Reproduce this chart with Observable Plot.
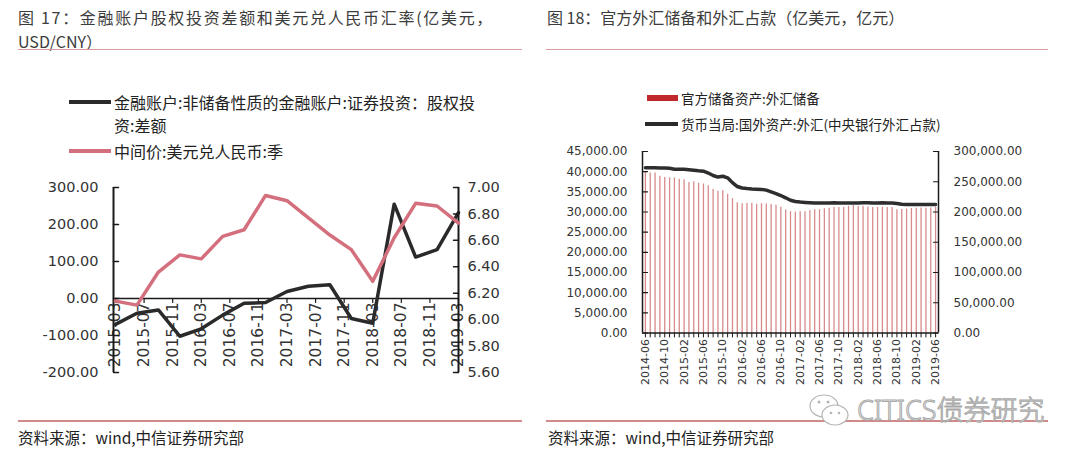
<!DOCTYPE html>
<html><head><meta charset="utf-8">
<script src="https://cdn.jsdelivr.net/npm/d3@7"></script>
<script src="https://cdn.jsdelivr.net/npm/@observablehq/plot@0.6"></script>
<style>
body{margin:0;background:#fff;width:1080px;height:460px;position:relative;overflow:hidden;font-family:"Noto Sans CJK SC","Noto Sans",sans-serif;color:#333}
.abs{position:absolute;white-space:nowrap}
.title{font-size:16px;color:#3c3c3c;line-height:20px}
.rule{position:absolute;height:1.5px;background:#d99a9a}
.leg{font-size:16px;color:#222;line-height:20px}
.leg2{font-size:13.5px;color:#222;line-height:18px}
.foot{font-size:15.5px;color:#222;line-height:20px}
.sw{position:absolute}
</style></head><body>
<script>
// ---------- Figure 17 data (quarterly) ----------
const fundDates = ["2015-03","2015-06","2015-09","2015-12","2016-03","2016-06","2016-09","2016-12","2017-03","2017-06","2017-09","2017-12","2018-03","2018-06","2018-09","2018-12","2019-03"];
const equityNet = [-70,-40,-31,-102,-82,-45,-13,-11,19,33,37,-54,-67,255,112,132,232];
const usdcny = [6.14,6.11,6.36,6.49,6.46,6.63,6.68,6.94,6.90,6.77,6.64,6.53,6.29,6.62,6.88,6.86,6.73];
const leftXTicks = ["2015-03","2015-07","2015-11","2016-03","2016-07","2016-11","2017-03","2017-07","2017-11","2018-03","2018-07","2018-11","2019-03"];
const leftYTicks = [-200,-100,0,100,200,300];
const leftY2Ticks = [5.6,5.8,6.0,6.2,6.4,6.6,6.8,7.0];

// ---------- Figure 18 data (monthly) ----------
const fxMonths = ["2014-06","2014-07","2014-08","2014-09","2014-10","2014-11","2014-12",
"2015-01","2015-02","2015-03","2015-04","2015-05","2015-06","2015-07","2015-08","2015-09","2015-10","2015-11","2015-12",
"2016-01","2016-02","2016-03","2016-04","2016-05","2016-06","2016-07","2016-08","2016-09","2016-10","2016-11","2016-12",
"2017-01","2017-02","2017-03","2017-04","2017-05","2017-06","2017-07","2017-08","2017-09","2017-10","2017-11","2017-12",
"2018-01","2018-02","2018-03","2018-04","2018-05","2018-06","2018-07","2018-08","2018-09","2018-10","2018-11","2018-12",
"2019-01","2019-02","2019-03","2019-04","2019-05","2019-06"];
const fxReserve = [39932,39662,39688,38877,38529,38474,38430,
38134,38015,37300,37481,37111,36938,36513,35573,35141,35255,34383,33304,
32309,32023,32126,32197,31917,32052,32011,31852,31664,31206,30516,30105,
29982,30051,30091,30295,30536,30568,30807,30915,31085,31092,31193,31399,
31615,31345,31428,31249,31106,31121,31179,31097,31103,30531,30617,30727,
30879,30902,30988,30950,31010,31192];
const fxOccupation = [272999,272993,273003,272838,272609,272278,270681,
270567,270712,269922,268966,268061,267492,264425,260314,257696,259118,256532,248538,
242086,239614,238661,237982,237709,237380,236136,233252,230337,227212,223462,219425,
217466,216351,215846,215340,214838,214713,214887,215031,215170,215061,214986,214788,
214898,214879,215155,215138,215028,215069,215110,214919,214713,213915,212858,212557,
212399,212325,212451,212420,212481,212315];
const rightXTicks = ["2014-06","2014-10","2015-02","2015-06","2015-10","2016-02","2016-06","2016-10","2017-02","2017-06","2017-10","2018-02","2018-06","2018-10","2019-02","2019-06"];
const rightYTicks = [0,5000,10000,15000,20000,25000,30000,35000,40000,45000];
const rightY2Ticks = [0,50000,100000,150000,200000,250000,300000];

// ---------- text ----------
const title17a = "图 17：金融账户股权投资差额和美元兑人民币汇率(亿美元，";
const title17b = "USD/CNY）";
const title18 = "图 18：官方外汇储备和外汇占款（亿美元，亿元）";
const legend17a = "金融账户:非储备性质的金融账户:证券投资：股权投";
const legend17a2 = "资:差额";
const legend17b = "中间价:美元兑人民币:季";
const legend18a = "官方储备资产:外汇储备";
const legend18b = "货币当局:国外资产:外汇(中央银行外汇占款)";
const source = "资料来源：wind,中信证券研究部";
const watermark = "CITICS债券研究";

// ---------- helpers ----------
const mi = s => { const [y, m] = s.split("-").map(Number); return y * 12 + m - 1; };
const tickShape = {draw(ctx, l) { ctx.moveTo(0, 0); ctx.lineTo(0, -l); }};
const axisColor = "#1a1a1a";
const numFont = "DejaVu Sans";
const svgStyle = {fontFamily: numFont, color: "#333", background: "transparent", overflow: "visible"};
function place(node, left, top) {
  const d = document.createElement("div");
  d.style.cssText = `position:absolute;left:${left}px;top:${top}px;`;
  d.appendChild(node);
  document.body.appendChild(d);
}
function addText(txt, cls, left, top, extra = "") {
  const d = document.createElement("div");
  d.className = "abs " + cls;
  d.style.cssText = `left:${left}px;top:${top}px;${extra}`;
  d.textContent = txt;
  document.body.appendChild(d);
}
function addBox(left, top, w, h, color) {
  const d = document.createElement("div");
  d.className = "sw";
  d.style.cssText = `left:${left}px;top:${top}px;width:${w}px;height:${h}px;background:${color}`;
  document.body.appendChild(d);
}

// ---------- headers / legends / footers ----------
addText(title17a, "title", 18, 7, "letter-spacing:1.7px");
addText(title17b, "title", 18, 31);
addText(title18, "title", 547, 7);
const r1 = document.createElement("div"); r1.className = "rule"; r1.style.cssText = "left:18px;top:48.5px;width:504px"; document.body.appendChild(r1);
const r2 = document.createElement("div"); r2.className = "rule"; r2.style.cssText = "left:546px;top:48.5px;width:502px"; document.body.appendChild(r2);
const r3 = document.createElement("div"); r3.className = "rule"; r3.style.cssText = "left:18px;top:420px;width:504px;background:#d08a8a"; document.body.appendChild(r3);
const r4 = document.createElement("div"); r4.className = "rule"; r4.style.cssText = "left:546px;top:420px;width:502px;background:#d08a8a"; document.body.appendChild(r4);

addBox(69, 100, 42, 4, "#2a2a2a");
addText(legend17a, "leg", 114, 92);
addText(legend17a2, "leg", 114, 115);
addBox(69, 149, 42, 4, "#d46f7d");
addText(legend17b, "leg", 114, 141);

addBox(647, 95, 31, 6, "#c0282c");
addText(legend18a, "leg2", 681, 89);
addBox(645, 122, 33, 4, "#2a2a2a");
addText(legend18b, "leg2", 681, 115);

addText(source, "foot", 18, 427);
addText(source, "foot", 548, 427);

// watermark
const wm = document.createElementNS("http://www.w3.org/2000/svg", "svg");
wm.setAttribute("width", 46); wm.setAttribute("height", 36);
wm.innerHTML = '<ellipse cx="17" cy="13" rx="14" ry="11" fill="#fff" stroke="#b5b5b5" stroke-width="1.2"/><ellipse cx="28" cy="22" rx="13" ry="10" fill="#fff" stroke="#b5b5b5" stroke-width="1.2"/><circle cx="12" cy="9" r="1.5" fill="#b5b5b5"/><circle cx="21" cy="9" r="1.5" fill="#b5b5b5"/><circle cx="24" cy="20" r="1.3" fill="#b5b5b5"/><circle cx="32" cy="20" r="1.3" fill="#b5b5b5"/>';
place(wm, 807, 393);
addText(watermark, "", 857, 393, "font-size:27px;line-height:34px;color:#fff;-webkit-text-stroke:1px #a8a8a8;font-family:'Noto Sans','Noto Sans CJK SC',sans-serif;font-weight:300");

// ---------- Figure 17 charts ----------
const L = fundDates.map((d, i) => ({m: mi(d), v: equityNet[i], r: usdcny[i]}));
const lx0 = mi(fundDates[0]), lx1 = mi(fundDates[fundDates.length - 1]);
const baseL = {width: 540, height: 220, marginLeft: 115, marginRight: 82, marginTop: 17, marginBottom: 18,
  x: {type: "linear", domain: [lx0, lx1], axis: null}, style: svgStyle};
const tL = {fontFamily: numFont, fontSize: 14.5, fill: "#333"};

const chartA = Plot.plot({...baseL, y: {domain: [-200, 300], axis: null}, marks: [
  Plot.text(leftXTicks, {x: mi, y: () => 0, text: d => d, rotate: -90, textAnchor: "end", dy: 4, ...tL, fontSize: 15.5}),
  Plot.ruleY([0], {stroke: axisColor, strokeWidth: 1.5}),
  Plot.vector(leftXTicks, {x: mi, y: () => 0, length: 4, rotate: 180, anchor: "start", shape: tickShape, stroke: axisColor, fill: "none", strokeWidth: 1.2}),
  Plot.ruleX([lx0], {stroke: axisColor, strokeWidth: 2, dx: -2}),
  Plot.vector(leftYTicks, {x: () => lx0, y: d => d, length: 5, rotate: 90, anchor: "start", shape: tickShape, stroke: axisColor, fill: "none", strokeWidth: 1.5, dx: -2}),
  Plot.text(leftYTicks, {x: () => lx0, y: d => d, text: d => d.toFixed(2), textAnchor: "end", dx: -17, ...tL}),
  Plot.line(L, {x: "m", y: "v", stroke: "#2a2a2a", strokeWidth: 3.5})
]});
const chartB = Plot.plot({...baseL, y: {domain: [5.6, 7.0], axis: null}, marks: [
  Plot.ruleX([lx1], {stroke: axisColor, strokeWidth: 2}),
  Plot.vector(leftY2Ticks, {x: () => lx1, y: d => d, length: 5, rotate: -90, anchor: "start", shape: tickShape, stroke: axisColor, fill: "none", strokeWidth: 1.5}),
  Plot.text(leftY2Ticks, {x: () => lx1, y: d => d, text: d => d.toFixed(2), textAnchor: "start", dx: 9, ...tL}),
  Plot.line(L, {x: "m", y: "r", stroke: "#d46f7d", strokeWidth: 3.5})
]});
place(chartA, 0, 170);
place(chartB, 0, 170);

// ---------- Figure 18 charts ----------
const R = fxMonths.map((d, i) => ({m: mi(d), res: fxReserve[i], occ: fxOccupation[i]}));
const rx0 = mi(fxMonths[0]) - 0.6, rx1 = mi(fxMonths[fxMonths.length - 1]) + 0.6;
const baseR = {width: 540, height: 255, marginLeft: 102, marginRight: 142, marginTop: 11, marginBottom: 62.5,
  x: {type: "linear", domain: [rx0, rx1], axis: null}, style: svgStyle};
const fmt = d3.format(",.2f");
const tR = {fontFamily: numFont, fontSize: 12, fill: "#333"};

const chartC = Plot.plot({...baseR, y: {domain: [0, 45000], axis: null}, marks: [
  Plot.ruleX(R, {x: "m", y1: () => 0, y2: "res", stroke: "#d98a8a", strokeWidth: 1.3}),
  Plot.ruleY([0], {stroke: axisColor, strokeWidth: 1.5}),
  Plot.vector(R, {x: "m", y: () => 0, length: 4, rotate: 180, anchor: "start", shape: tickShape, stroke: axisColor, fill: "none", strokeWidth: 1}),
  Plot.text(rightXTicks, {x: mi, y: () => 0, text: d => d, rotate: -90, textAnchor: "end", dy: 6, ...tR, fontSize: 11}),
  Plot.ruleX([rx0], {stroke: axisColor, strokeWidth: 1.5}),
  Plot.vector(rightYTicks, {x: () => rx0, y: d => d, length: 5, rotate: 90, anchor: "start", shape: tickShape, stroke: axisColor, fill: "none", strokeWidth: 1.2}),
  Plot.text(rightYTicks, {x: () => rx0, y: d => d, text: d => fmt(d), textAnchor: "end", dx: -15, ...tR})
]});
const chartD = Plot.plot({...baseR, y: {domain: [0, 300000], axis: null}, marks: [
  Plot.ruleX([rx1], {stroke: axisColor, strokeWidth: 1.5}),
  Plot.vector(rightY2Ticks, {x: () => rx1, y: d => d, length: 5, rotate: -90, anchor: "start", shape: tickShape, stroke: axisColor, fill: "none", strokeWidth: 1.2}),
  Plot.text(rightY2Ticks, {x: () => rx1, y: d => d, text: d => fmt(d), textAnchor: "start", dx: 15, ...tR}),
  Plot.line(R, {x: "m", y: "occ", stroke: "#2e2e2e", strokeWidth: 3.5})
]});
place(chartC, 540, 140);
place(chartD, 540, 140);
</script>
</body></html>
